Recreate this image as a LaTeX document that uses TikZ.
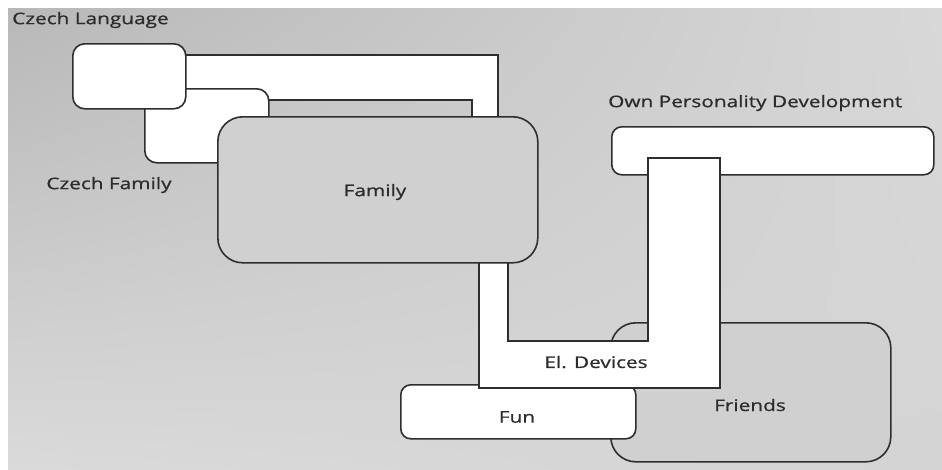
\documentclass[tikz,border=0pt]{standalone}
\usepackage{fontspec}
\setmainfont[FakeStretch=1.3,FakeBold=0.8]{Open Sans}
\usetikzlibrary{shadings}
\definecolor{edge}{HTML}{2E2E2E}
\definecolor{txt}{HTML}{2C2C2C}
\definecolor{boxgray}{HTML}{D0D0D0}
\definecolor{bgul}{HTML}{B8B8B8}
\definecolor{bgur}{HTML}{D8D8D8}
\definecolor{bgll}{HTML}{DADADA}
\definecolor{bglr}{HTML}{D4D4D4}
\begin{document}
\begin{tikzpicture}[x=1pt,y=-1pt,
  box/.style={draw=edge,line width=1.6pt,fill=white,inner sep=0pt,anchor=north west},
  graybox/.style={box,fill=boxgray},
  band/.style={draw=edge,line width=1.6pt,fill=white,line join=miter},
  lbl/.style={text=txt,font=\fontsize{16}{19}\selectfont,inner sep=0pt}]
\useasboundingbox (0,0) rectangle (942,469);
\fill[white] (0,0) rectangle (942,469);
\shade[upper left=bgul,upper right=bgur,lower left=bgll,lower right=bglr]
  (8,8) rectangle (942,469);
% upper band (Czech Language -> Family)
\path[band] (180,55) -- (498,55) -- (498,130) -- (472,130) -- (472,100) -- (180,100) -- cycle;
% Czech Family and Czech Language boxes
\node[box,rounded corners=12pt,minimum width=124pt,minimum height=74pt] (cf) at (144,88) {};
\node[box,rounded corners=12pt,minimum width=113pt,minimum height=65pt] (cl) at (72,43) {};
% lower boxes
\node[graybox,rounded corners=25pt,minimum width=280pt,minimum height=139pt] (fr) at (610,322) {};
\node[box,rounded corners=10pt,minimum width=235pt,minimum height=54pt] (fun) at (400,384) {};
\node[box,rounded corners=10pt,minimum width=322pt,minimum height=48pt] (opd) at (611,126) {};
% lower band (Family -> El. Devices -> Own Personality Development)
\path[band] (479,250) -- (479,388) -- (720,388) -- (720,158) -- (648,158) -- (648,341) -- (508,341) -- (508,250) -- cycle;
% Family box
\node[graybox,rounded corners=25pt,minimum width=320pt,minimum height=146pt] (fam) at (217,116) {};
% labels
\node[lbl,anchor=west] (tcl) at (12,20) {Czech Language};
\node[lbl] (tcf) at (109,185) {Czech Family};
\node[lbl] (tfam) at (375,192) {Family};
\node[lbl,anchor=west] (topd) at (608,103) {Own Personality Development};
\node[lbl] (tel) at (596,362) {El. Devices};
\node[lbl] (tfun) at (517,417) {Fun};
\node[lbl] (tfr) at (750,405) {Friends};
\end{tikzpicture}
\end{document}
